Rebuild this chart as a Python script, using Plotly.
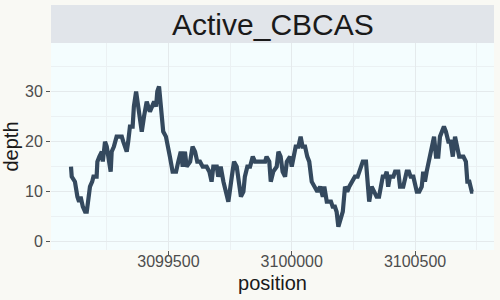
import plotly.graph_objects as go

position = [3099105, 3099108, 3099121, 3099125, 3099131, 3099138, 3099144, 3099153, 3099162, 3099169,
            3099175, 3099182, 3099191, 3099196, 3099209, 3099212, 3099220, 3099230, 3099234, 3099243,
            3099250, 3099260, 3099266, 3099270, 3099279, 3099290, 3099311, 3099317, 3099324, 3099331,
            3099337, 3099344, 3099355, 3099360, 3099369, 3099377, 3099383, 3099392, 3099401, 3099412,
            3099425, 3099432, 3099442, 3099450, 3099455, 3099462, 3099470, 3099479, 3099490, 3099500,
            3099506, 3099517, 3099531, 3099540, 3099550, 3099558, 3099567, 3099574, 3099588, 3099598,
            3099608, 3099617, 3099628, 3099639, 3099655, 3099666, 3099675, 3099682, 3099696, 3099702,
            3099712, 3099723, 3099732, 3099743, 3099757, 3099766, 3099777, 3099787, 3099794, 3099804,
            3099810, 3099820, 3099831, 3099842, 3099851, 3099892, 3099898, 3099909, 3099915, 3099925,
            3099939, 3099946, 3099955, 3099963, 3099973, 3099980, 3099993, 3100000, 3100006, 3100016,
            3100027, 3100036, 3100044, 3100054, 3100063, 3100071, 3100081, 3100094, 3100104, 3100115,
            3100126, 3100132, 3100142, 3100159, 3100166, 3100175, 3100182, 3100189, 3100196, 3100207,
            3100216, 3100225, 3100233, 3100243, 3100256, 3100267, 3100280, 3100288, 3100301, 3100306,
            3100314, 3100324, 3100333, 3100344, 3100354, 3100361, 3100369, 3100378, 3100385, 3100391,
            3100398, 3100412, 3100419, 3100432, 3100439, 3100452, 3100459, 3100466, 3100475, 3100482,
            3100493, 3100500, 3100507, 3100517, 3100527, 3100533, 3100540, 3100547, 3100556, 3100563,
            3100571, 3100577, 3100585, 3100594, 3100601, 3100608, 3100617, 3100625, 3100635, 3100644,
            3100653, 3100662, 3100671, 3100679, 3100689, 3100696, 3100706, 3100712, 3100720, 3100730,
            3100736]

depth = [15, 13, 12, 10, 9, 8, 9, 7, 6, 6,
         9, 11, 12, 13, 13, 16, 17, 18, 16, 20,
         19, 16, 14, 18, 19, 21, 21, 20, 19, 18,
         20, 23, 23, 27, 30, 27, 24, 22, 25, 28,
         26, 27, 28, 27, 30, 31, 26, 22, 21, 19,
         17, 14, 14, 16, 18, 15, 18, 15, 16, 19,
         18, 16, 16, 15, 15, 14, 12, 15, 15, 13,
         15, 12, 10, 8, 13, 16, 15, 12, 9, 10,
         13, 15, 15, 17, 16, 16, 17, 16, 12, 14,
         15, 18, 17, 14, 13, 16, 17, 15, 17, 19,
         19, 21, 19, 19, 17, 16, 12, 11, 10, 11,
         9, 11, 8, 8, 7, 7, 6, 3, 4, 6,
         11, 10, 11, 12, 13, 13, 15, 16, 16, 12,
         8, 11, 10, 9, 9, 11, 13, 13, 14, 11,
         13, 13, 14, 14, 11, 11, 13, 14, 14, 13,
         13, 11, 10, 10, 11, 14, 12, 14, 16, 18,
         19, 21, 17, 17, 21, 22, 23, 22, 20, 20,
         17, 21, 19, 17, 17, 17, 16, 12, 12, 10,
         10]

title_text = "Active_CBCAS"
x_ticks = [3099500, 3100000, 3100500]
y_ticks = [0, 10, 20, 30]

FONT = "Liberation Sans, Arial, sans-serif"
GRID = "#E4EAEC"
MINOR = "#EBF1F3"

fig = go.Figure()
fig.add_trace(go.Scatter(x=position, y=depth, mode="lines",
                         line=dict(color="#34495E", width=4.2),
                         showlegend=False, hoverinfo="skip"))

plot_h = 250 - 43
fig.update_layout(
    width=500, height=300,
    margin=dict(l=51, r=6, t=43, b=50),
    paper_bgcolor="#F9F9F4",
    plot_bgcolor="#F4FDFE",
    font=dict(family=FONT, color="#4D4D4D"),
    shapes=[dict(type="rect", xref="paper", yref="paper",
                 x0=0, x1=1, y0=1, y1=1 + 38 / plot_h,
                 fillcolor="#E1E5EA", line=dict(width=0), layer="below")],
    annotations=[dict(text=title_text, xref="paper", yref="paper",
                      x=0.5, y=1 + 19 / plot_h, showarrow=False,
                      xanchor="center", yanchor="middle",
                      font=dict(size=30, color="#1A1A1A", family=FONT))],
)
fig.update_xaxes(
    range=[3099024, 3100820],
    tickvals=x_ticks, ticktext=[str(v) for v in x_ticks],
    ticks="outside", ticklen=4, tickcolor="#555555", tickwidth=1,
    tickfont=dict(size=16, color="#4D4D4D"),
    ticklabelstandoff=-7,
    showgrid=True, gridcolor=GRID, gridwidth=1.2,
    minor=dict(tickvals=[3099250, 3099750, 3100250, 3100750], showgrid=True,
               gridcolor=MINOR, gridwidth=0.7, ticks=""),
    zeroline=False, showline=False,
    title=dict(text="position", font=dict(size=20, color="#1A1A1A"), standoff=6),
)
fig.update_yaxes(
    range=[-1.65, 39.7],
    tickvals=y_ticks, ticktext=[str(v) for v in y_ticks],
    ticks="outside", ticklen=4, tickcolor="#555555", tickwidth=1,
    tickfont=dict(size=16, color="#4D4D4D"),
    showgrid=True, gridcolor=GRID, gridwidth=1.2,
    minor=dict(tickvals=[5, 15, 25, 35], showgrid=True,
               gridcolor=MINOR, gridwidth=0.7, ticks=""),
    zeroline=False, showline=False,
    title=dict(text="depth", font=dict(size=20, color="#1A1A1A"), standoff=3),
)

fig.write_html("out.html")
